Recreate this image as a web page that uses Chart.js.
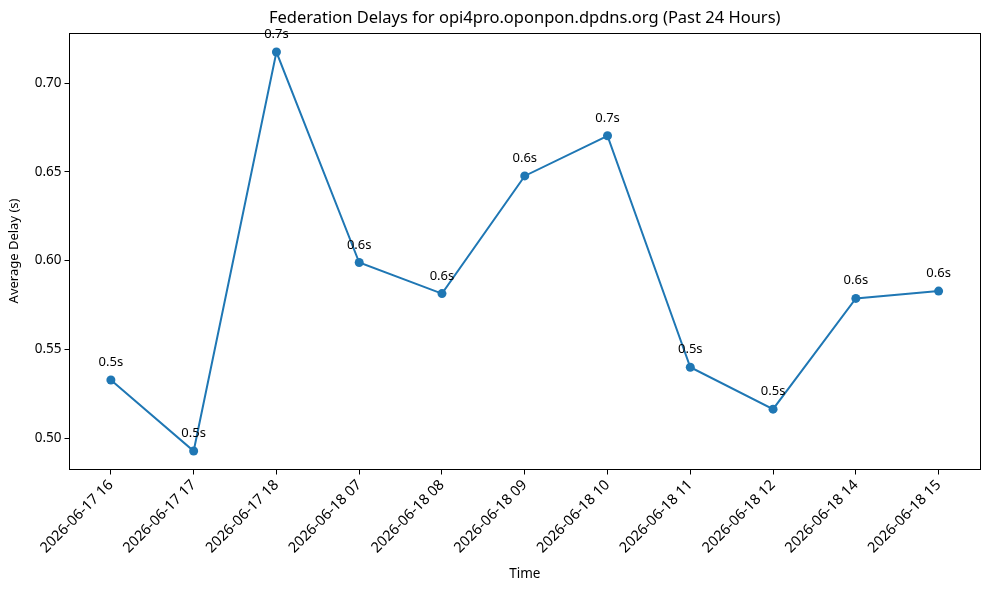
<!DOCTYPE html>
<html>
<head>
<meta charset="utf-8">
<script src="https://cdn.jsdelivr.net/npm/chart.js@4.4.1/dist/chart.umd.min.js"></script>
<style>
  html, body { margin: 0; padding: 0; background: #fff; }
  #wrap { width: 990px; height: 590px; position: relative; }
</style>
</head>
<body>
<div id="wrap"><canvas id="c" width="990" height="590"></canvas></div>
<script>
const categories = ["2026-06-17 16", "2026-06-17 17", "2026-06-17 18", "2026-06-18 07", "2026-06-18 08", "2026-06-18 09", "2026-06-18 10", "2026-06-18 11", "2026-06-18 12", "2026-06-18 14", "2026-06-18 15"];
const delays = [0.5327, 0.4927, 0.7175, 0.5989, 0.5814, 0.6477, 0.6703, 0.5399, 0.5163, 0.5787, 0.5828];
const yTickValues = [0.50, 0.55, 0.60, 0.65, 0.70];
const chartTitle = 'Federation Delays for opi4pro.oponpon.dpdns.org (Past 24 Hours)';

const FONT = "'Noto Sans', 'Open Sans', sans-serif";
const points = delays.map((v, i) => ({ x: i, y: v }));

const boxPlugin = {
  id: 'box',
  afterDraw(chart) {
    const a = chart.chartArea, ctx = chart.ctx;
    ctx.save();
    ctx.strokeStyle = '#000';
    ctx.lineWidth = 1;
    ctx.strokeRect(Math.round(a.left) - 0.5, Math.round(a.top) + 0.5, Math.round(a.right - a.left), Math.round(a.bottom - a.top) - 1);
    // title centred over the plot area
    ctx.font = '16.5px ' + FONT;
    ctx.fillStyle = '#000';
    ctx.textAlign = 'center';
    ctx.textBaseline = 'alphabetic';
    ctx.fillText(chartTitle, (a.left + a.right) / 2, a.top - 10);
    ctx.restore();
  }
};

const labelPlugin = {
  id: 'valueLabels',
  afterDatasetsDraw(chart) {
    const ctx = chart.ctx, xs = chart.scales.x, ys = chart.scales.y;
    ctx.save();
    ctx.font = '13px ' + FONT;
    ctx.fillStyle = '#000';
    ctx.textAlign = 'center';
    ctx.textBaseline = 'alphabetic';
    delays.forEach((v, i) => {
      const px = xs.getPixelForValue(i), py = ys.getPixelForValue(v);
      ctx.fillText(v.toFixed(1) + 's', px, py - 14);
    });
    ctx.restore();
  }
};

new Chart(document.getElementById('c'), {
  type: 'line',
  data: {
    datasets: [{
      data: points,
      borderColor: '#1f77b4',
      backgroundColor: '#1f77b4',
      borderWidth: 2,
      pointRadius: 4.5,
      pointBackgroundColor: '#1f77b4',
      pointBorderColor: '#1f77b4',
      pointBorderWidth: 0,
      tension: 0
    }]
  },
  options: {
    responsive: false,
    animation: false,
    devicePixelRatio: 1,
    layout: { padding: { left: 0, right: 10, top: 32.5, bottom: 0 } },
    plugins: {
      legend: { display: false },
      tooltip: { enabled: false },
      title: { display: false }
    },
    scales: {
      x: {
        type: 'linear',
        min: -0.5,
        max: 10.5,
        afterBuildTicks(scale) {
          scale.ticks = categories.map((c, i) => ({ value: i }));
        },
        afterFit(scale) { scale.height = 120.5; },
        ticks: {
          callback: (v) => categories[v],
          color: '#000',
          font: { family: FONT, size: 14.5 },
          maxRotation: 45,
          minRotation: 45,
          autoSkip: false,
          padding: 2
        },
        grid: { display: true, drawOnChartArea: false, drawTicks: true, tickLength: 5, color: '#000' },
        border: { display: false },
        title: {
          display: true,
          text: 'Time',
          color: '#000',
          font: { family: FONT, size: 13.5 },
          padding: { top: 0, bottom: 8 }
        }
      },
      y: {
        type: 'linear',
        min: 0.4823,
        max: 0.7285,
        afterBuildTicks(scale) {
          scale.ticks = yTickValues.map(v => ({ value: v }));
        },
        afterFit(scale) { scale.width = 69.5; },
        ticks: {
          callback: (v) => v.toFixed(2),
          color: '#000',
          font: { family: FONT, size: 13.5 },
          padding: 3
        },
        grid: { display: true, drawOnChartArea: false, drawTicks: true, tickLength: 5, color: '#000' },
        border: { display: false },
        title: {
          display: true,
          text: 'Average Delay (s)',
          color: '#000',
          font: { family: FONT, size: 13 },
          padding: { top: 6, bottom: 0 }
        }
      }
    }
  },
  plugins: [boxPlugin, labelPlugin]
});
</script>
</body>
</html>
